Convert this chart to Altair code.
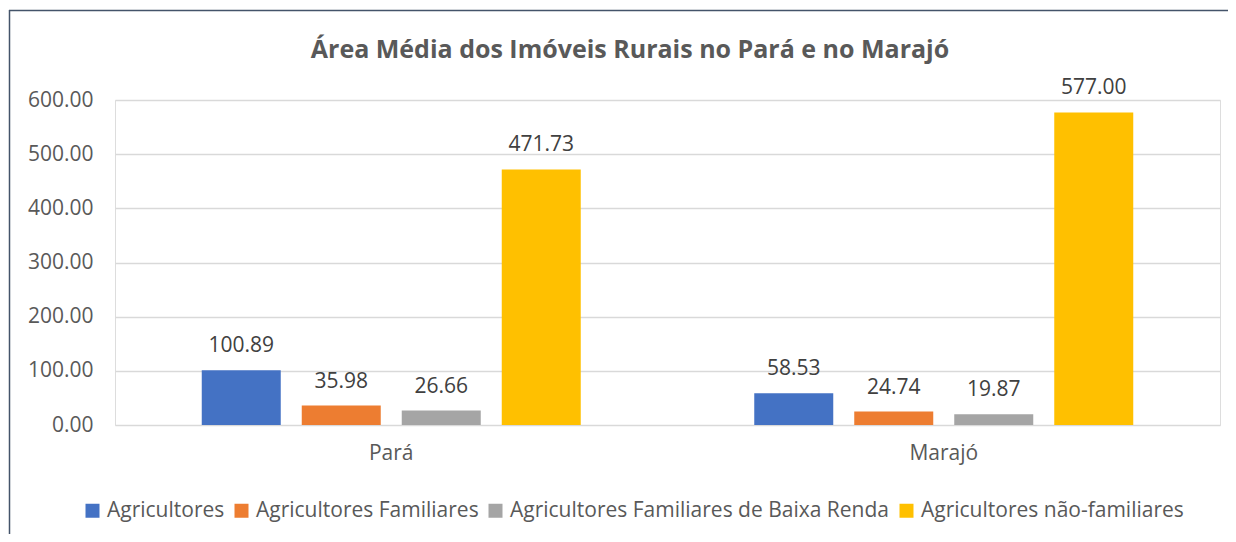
import altair as alt
import pandas as pd

regions = ["Pará", "Marajó"]
series = ["Agricultores", "Agricultores Familiares",
          "Agricultores Familiares de Baixa Renda", "Agricultores não-familiares"]
para_values = [100.89, 35.98, 26.66, 471.73]
marajo_values = [58.53, 24.74, 19.87, 577.00]
colors = ["#4472C4", "#ED7D31", "#A5A5A5", "#FFC000"]
y_ticks = [0, 100, 200, 300, 400, 500, 600]
title_text = "Área Média dos Imóveis Rurais no Pará e no Marajó"

rows = []
for s, v in zip(series, para_values):
    rows.append({"regiao": "Pará", "serie": s, "valor": v})
for s, v in zip(series, marajo_values):
    rows.append({"regiao": "Marajó", "serie": s, "valor": v})
df = pd.DataFrame(rows)
one = pd.DataFrame({"t": [title_text]})

FONT = "Open Sans"
FS = 21

x = alt.X("regiao:N", sort=regions, title=None,
          scale=alt.Scale(paddingInner=0, paddingOuter=0),
          axis=alt.Axis(labelAngle=0, ticks=False, domain=False, labelFont=FONT,
                        labelFontSize=FS, labelColor="#595959", labelPadding=17))
xoff = alt.XOffset("serie:N", sort=series,
                   scale=alt.Scale(paddingInner=0.21, paddingOuter=0.8675))
y = alt.Y("valor:Q", title=None,
          scale=alt.Scale(domain=[0, 600], nice=False),
          axis=alt.Axis(values=y_ticks, format=".2f", ticks=False, domain=False,
                        grid=True, gridColor="#D9D9D9", gridWidth=1.5,
                        labelFont=FONT, labelFontSize=FS, labelColor="#595959",
                        labelPadding=22))
color = alt.Color("serie:N", sort=series, title=None,
                  scale=alt.Scale(domain=series, range=colors),
                  legend=alt.Legend(orient="none", legendX=-33, legendY=400,
                                    direction="horizontal", symbolType="square",
                                    symbolSize=196, symbolStrokeWidth=0,
                                    labelFont=FONT, labelFontSize=FS,
                                    labelColor="#595959", labelOffset=4,
                                    labelLimit=0, columnPadding=6, columns=4))

bars = alt.Chart(df).mark_bar().encode(x=x, xOffset=xoff, y=y, color=color)
labels = alt.Chart(df).mark_text(dy=-18, baseline="alphabetic", font=FONT,
                                 fontSize=FS, color="#404040").encode(
    x=x, xOffset=xoff, y=y, text=alt.Text("valor:Q", format=".2f"))

title = alt.Chart(one).mark_text(font=FONT, fontSize=25, fontWeight="bold",
                                 color="#595959", align="center",
                                 baseline="alphabetic").encode(
    x=alt.value(515), y=alt.value(-42), text="t:N")

border_left = alt.Chart(one).mark_rule(color="#44546A", strokeWidth=1.5, clip=False).encode(
    x=alt.value(-105.5), y=alt.value(-90), y2=alt.value(434))
border_top = alt.Chart(one).mark_rule(color="#44546A", strokeWidth=1.5, clip=False).encode(
    x=alt.value(-106), x2=alt.value(1113), y=alt.value(-89.5))

chart = alt.layer(bars, labels, title, border_left, border_top).properties(
    width=1105, height=325,
    autosize=alt.AutoSizeParams(type="none"),
    padding={"left": 107, "top": 92, "right": 8, "bottom": 109},
).configure_view(stroke=None).configure(background="white")

chart.save("out.html", embed_options={"renderer": "svg", "actions": False})
